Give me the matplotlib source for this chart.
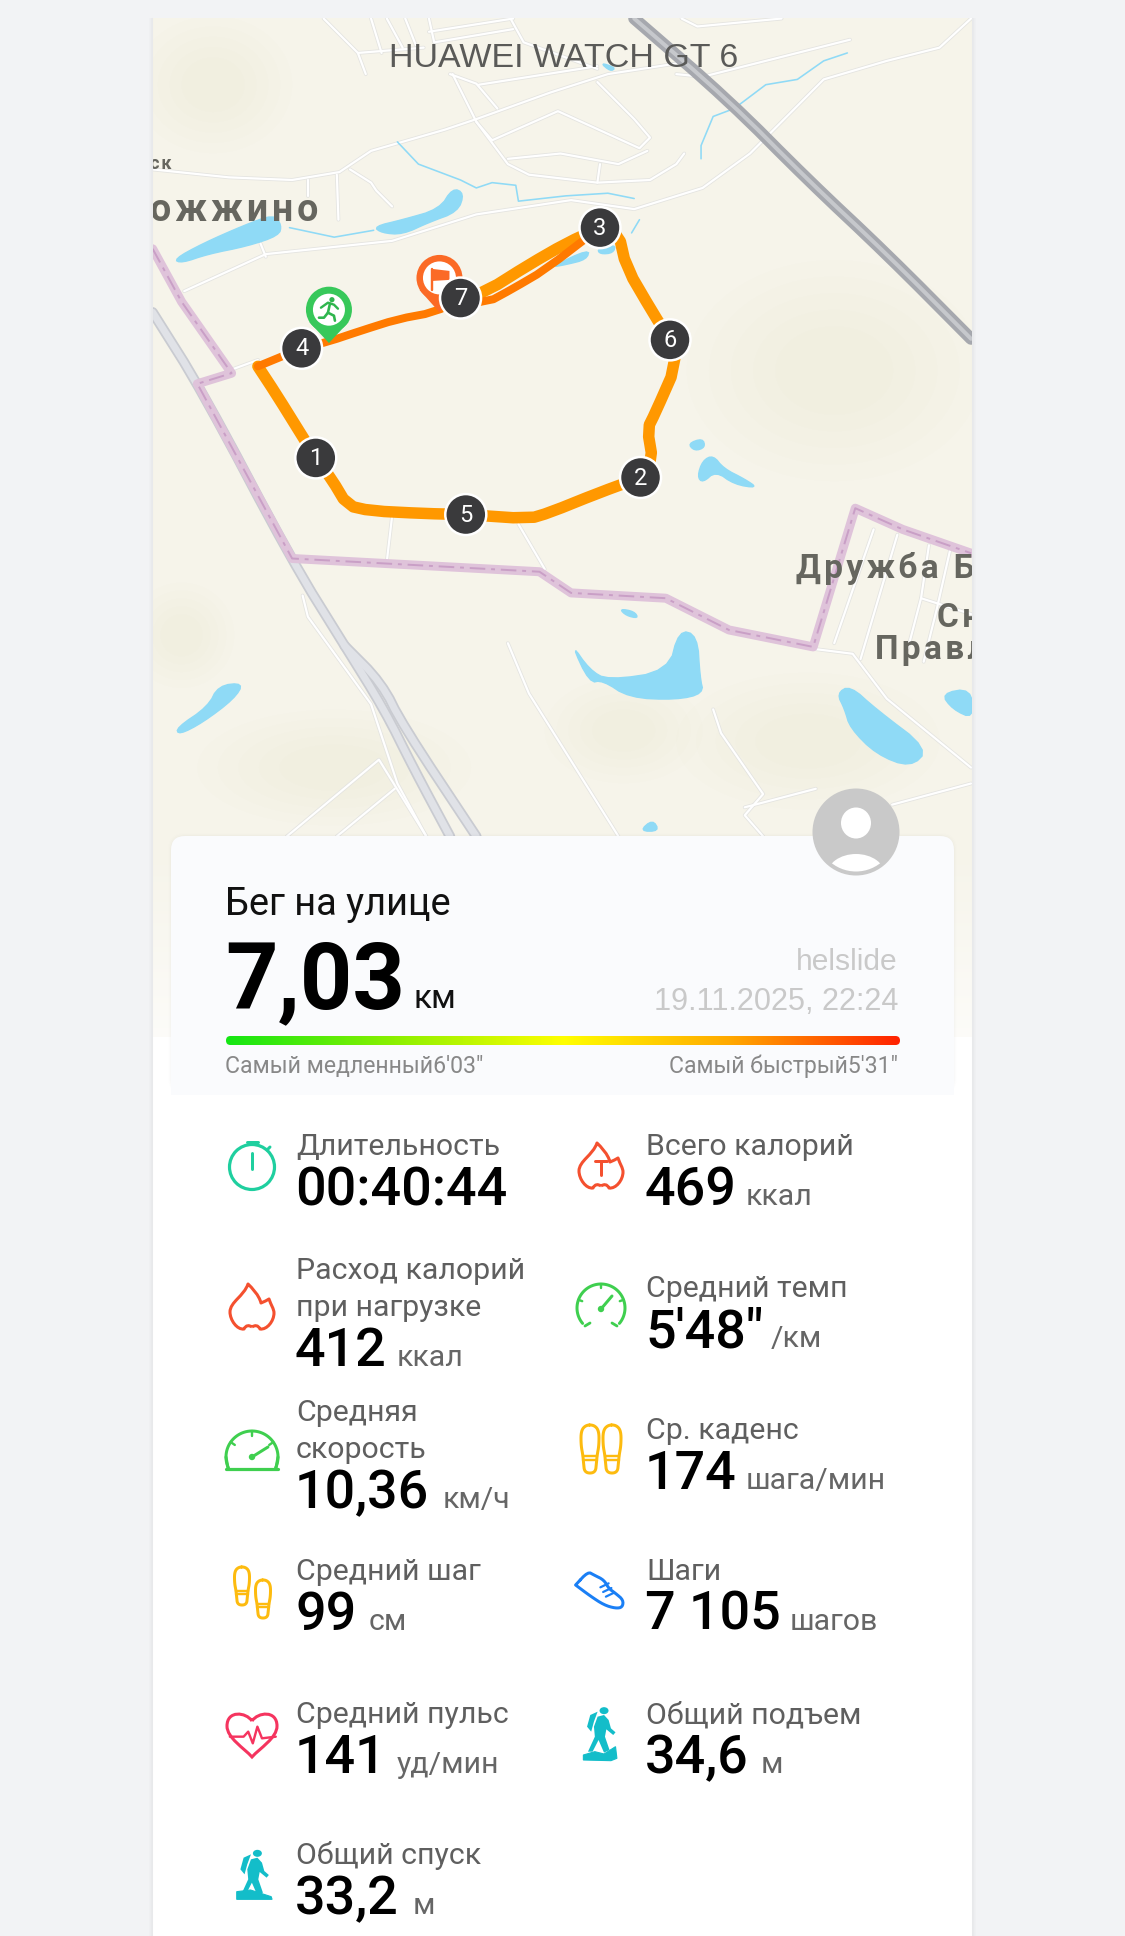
import numpy as np
import matplotlib
matplotlib.use("Agg")
import matplotlib.pyplot as plt
from matplotlib.colors import LinearSegmentedColormap
from matplotlib.patches import Circle, Ellipse, FancyBboxPatch, PathPatch, Polygon, Rectangle
from matplotlib.path import Path

W, H = 1125, 1936

# workout numbers
labels_left = ["Длительность", "Расход калорий\nпри нагрузке", "Средняя\nскорость", "Средний шаг", "Средний пульс", "Общий спуск"]
values_left = ["00:40:44", "412", "10,36", "99", "141", "33,2"]
units_left = ["", "ккал", "км/ч", "см", "уд/мин", "м"]
unit_x_left = [0, 397, 443, 369, 397, 413]
baseline_left = [1205, 1366, 1508, 1630, 1773, 1914]

labels_right = ["Всего калорий", "Средний темп", "Ср. каденс", "Шаги", "Общий подъем"]
values_right = ["469", "5'48\"", "174", "7 105", "34,6"]
units_right = ["ккал", "/км", "шага/мин", "шагов", "м"]
unit_x_right = [746, 771, 746, 790, 761]
baseline_right = [1205, 1347, 1489, 1630, 1773]

# map geometry, read in the coordinates of the map crop
route_light = [(205,692),(240,745),(290,825),(315,865),(345,905),(375,955),(420,965),(520,970),(600,972),
               (720,980),(760,968),(850,932),(932,902),(955,870),(945,810),(960,780),(1000,690),(988,642),
               (955,590),(905,505),(890,440),(855,430),(790,460),(720,500),(640,550),(590,565)]
route_dark = [(855,430),(750,510),(690,545),(640,572),(590,565),(540,590),(470,603),(400,625),(340,645),(288,658),(205,692)]
lap_marks = [(315,865),(932,902),(855,430),(288,658),(600,972),(988,642),(590,563)]

lakes = [
    [(45,490),(100,460),(180,425),(235,405),(250,425),(245,445),(185,465),(110,480),(60,497)],
    [(425,428),(480,415),(550,395),(575,355),(597,365),(585,400),(530,420),(480,443),(440,440)],
    [(855,118),(885,128),(875,135)],
    [(760,505),(835,470),(830,490),(790,500)],
    [(850,470),(885,462),(880,478),(855,480)],
    [(1022,838),(1050,828),(1055,845),(1035,852)],
    [(1040,900),(1050,870),(1070,860),(1090,885),(1130,905),(1155,922),(1110,915),(1075,890),(1050,912)],
    [(892,1150),(920,1155),(928,1168),(905,1163)],
    [(800,1215),(835,1265),(870,1285),(985,1268),(1005,1190),(1040,1200),(1045,1280),(1052,1310),(1000,1322),(910,1318),(860,1285),(835,1290)],
    [(50,1375),(110,1335),(130,1295),(178,1290),(160,1320),(100,1365),(55,1388)],
    [(1305,1310),(1330,1295),(1380,1340),(1480,1415),(1445,1450),(1380,1425),(1330,1375),(1320,1340)],
    [(1503,1310),(1560,1300),(1565,1358),(1525,1340)],
    [(930,1570),(955,1548),(968,1570)],
]
streams = [
    [(470,268),(510,310),(590,340),(620,355),(650,345),(695,350),(700,380),(790,370),(870,365),(920,375)],
    [(1047,300),(1047,275),(1070,220),(1110,205),(1170,160),(1230,150),(1280,115),(1325,100)],
    [(265,430),(350,448),(425,435)],
    [(915,440),(930,415)],
]
roads = [
    [(5,320),(150,335),(270,340),(360,325),(420,285),(560,245),(620,225),(760,175),(870,140),(1000,120)],
    [(575,140),(620,230),(680,310),(720,330),(850,345),(950,340),(1000,310),(1015,290)],
    [(620,230),(650,265),(775,210),(930,280),(950,260),(920,225),(850,155)],
    [(680,300),(780,290),(890,310),(945,285)],
    [(850,345),(855,310)],
    [(570,140),(620,158),(660,205)],
    [(625,160),(850,125)],
    [(380,320),(420,345),(430,360),(460,390)],
    [(355,330),(358,415)],
    [(300,340),(300,370)],
    [(210,460),(220,485)],
    [(65,550),(220,480),(460,455),(620,405),(800,378),(920,395),(1050,355),(1140,290),(1280,150),(1400,115),(1500,90),(1560,35)],
    [(150,700),(205,680)],
    [(330,35),(395,100),(410,140)],
    [(395,100),(520,90)],
    [(420,35),(440,100)],
    [(450,35),(480,90)],
    [(485,35),(505,85)],
    [(530,35),(540,80),(690,55)],
    [(530,60),(690,35)],
    [(685,35),(710,80),(850,130)],
    [(1010,35),(1040,50),(1200,35)],
    [(1000,140),(1050,145),(1330,75)],
    [(460,975),(450,1060)],
    [(700,990),(750,1075),(745,1080)],
    [(680,1215),(720,1310),(890,1580)],
    [(1070,1340),(1085,1385),(1165,1500),(1130,1540),(1165,1580)],
    [(1130,1525),(1265,1490)],
    [(1410,1520),(1560,1480)],
    [(260,1580),(435,1435),(525,1580)],
    [(355,1580),(465,1490)],
    [(290,1125),(300,1165),(420,1330),(470,1480),(525,1580)],
    [(1255,1225),(1335,1235),(1400,1320),(1560,1450)],
    [(1300,1215),(1375,1000)],
    [(1350,1245),(1420,1010)],
    [(1440,1225),(1465,1130),(1480,1030)],
    [(1465,1130),(1560,1160)],
    [(1520,1040),(1495,1150),(1470,1250)],
]
highway_top = [(920,35),(1100,190),(1250,340),(1400,480),(1560,640)]
highway_left = [(5,590),(100,740),(270,1060),(370,1220),(445,1340),(500,1450),(570,1580)]
highway_branch = [(370,1220),(440,1290),(480,1370),(620,1580)]
border = [(5,470),(60,570),(155,705),(90,725),(270,1055),(740,1080),(800,1120),(980,1130),(1100,1190),(1260,1222),(1340,960),(1430,1000),(1560,1045)]
green_patches = [(120,160,300,260),(1300,700,560,420),(350,1450,520,220),(1250,1400,500,260),(900,1380,300,200),(60,1200,200,200)]

ORANGE = "#ff9800"
DARK_ORANGE = "#ff7a00"
WATER = "#8fdaf6"
TEAL = "#13bdc9"
GREEN = "#3fcf4f"
RED = "#f4502f"
YELLOW = "#fdbb0f"
BLUE = "#1a7ff5"


def m(points):
    # map crop -> figure pixels
    return [(150 + x / 1.9, y / 1.889) for x, y in points]


def s(points):
    # lower stats crop -> figure pixels
    return [(200 + x / 2.178, 1530 + y / 3) for x, y in points]


def chaikin(points, rounds=2, closed=False):
    # rounds off corners of a hand read outline
    pts = np.array(points, dtype=float)
    for _ in range(rounds):
        a = pts if closed else pts[:-1]
        b = np.roll(pts, -1, axis=0) if closed else pts[1:]
        q = np.empty((len(a) * 2, 2))
        q[0::2] = 0.75 * a + 0.25 * b
        q[1::2] = 0.25 * a + 0.75 * b
        pts = q if closed else np.vstack([pts[0], q, pts[-1]])
    return [tuple(p) for p in pts]


def line(ax, points, color, width, z=2, **kw):
    xs, ys = zip(*points)
    ax.plot(xs, ys, color=color, lw=width * 0.72, zorder=z, solid_capstyle="round", solid_joinstyle="round", **kw)


def arc(ax, cx, cy, r, a0, a1, color, width, z=6):
    t = np.radians(np.linspace(a0, a1, 60))
    line(ax, list(zip(cx + r * np.cos(t), cy - r * np.sin(t))), color, width, z)


def spaced(text):
    return "\u200a".join(text)


fig = plt.figure(figsize=(W / 100, H / 100), dpi=100, facecolor="#f2f3f5")
ax = fig.add_axes([0, 0, 1, 1])
ax.axis("off")

# ---- map ----
ax.add_patch(Rectangle((153, 18), 819, 1019, fc="#f6f4ea", ec="none", zorder=0))
for cx, cy, w, h in green_patches:
    x, y = m([(cx, cy)])[0]
    for k in range(5):
        ax.add_patch(Ellipse((x, y), w / 1.9 * (1 - k * 0.15), h / 1.9 * (1 - k * 0.15), fc="#e6ecc9", ec="none", alpha=0.05, zorder=0.5))

for r in roads:
    line(ax, m(r), "#e4e4e1", 3.8, 1)
for r in roads:
    line(ax, m(r), "#ffffff", 2.2, 1.1)
for lake in lakes:
    ax.add_patch(Polygon(m(chaikin(lake, closed=True)), closed=True, fc=WATER, ec=WATER, lw=1, zorder=1.5))
for st in streams:
    line(ax, m(st), WATER, 1.6, 1.5)

line(ax, m(chaikin(highway_top)), "#a6a8ae", 12, 1.8)
line(ax, m(chaikin(highway_top)), "#c6c8cc", 4, 1.81)
for hw in (highway_left, highway_branch):
    line(ax, m(chaikin(hw)), "#c9cbd1", 10.5, 1.8)
    line(ax, m(chaikin(hw)), "#e0e2e7", 7, 1.81)

line(ax, m(border), "#dfc3da", 9, 2)
bx, by = zip(*m(border))
ax.plot(bx, by, color="#c99fc6", lw=1.4, ls=(0, (8, 3, 2, 3)), zorder=2.1)

map_font = {"family": ["Roboto", "DejaVu Sans"], "color": "#66665f", "zorder": 3, "weight": "bold"}
ax.text(389, 67, "HUAWEI WATCH GT 6", fontsize=24.5, family="Liberation Sans", color="#5a5a58", zorder=3)
ax.text(150, 169, spaced("ск"), fontsize=13, **map_font)
ax.text(150, 221, spaced("ожжино"), fontsize=27, **map_font)
ax.text(796, 578, spaced("Дружба Би"), fontsize=24, **map_font)
ax.text(937, 627, spaced("Сн"), fontsize=24, **map_font)
ax.text(875, 659, spaced("Правл"), fontsize=24, **map_font)

# fade of the map toward the bottom
fade = np.linspace(0, 0.7, 64).reshape(-1, 1)
fade_img = np.dstack([np.ones_like(fade)] * 3 + [fade])
ax.imshow(fade_img, extent=(153, 972, 1037, 850), aspect="auto", zorder=3.5)

# route
line(ax, m(chaikin(route_light, 1)), ORANGE, 11.5, 4)
line(ax, m(chaikin(route_dark, 1)), DARK_ORANGE, 8, 4.1)

# start pin
px, py = m([(340, 585)])[0]
tip = m([(340, 648)])[0]
ax.add_patch(Polygon([(px - 20, py + 12), tip, (px + 20, py + 12)], fc="#37c85a", ec="none", zorder=4.3))
ax.add_patch(Circle((px, py), 23, fc="#37c85a", ec="none", zorder=4.3))
ax.add_patch(Circle((px, py), 16, fc="white", ec="none", zorder=4.4))
ax.add_patch(Circle((px + 3, py - 10), 2.6, fc="#2fb54e", ec="none", zorder=4.5))
line(ax, [(px - 8, py - 2), (px - 1, py - 7), (px + 5, py - 5), (px + 9, py - 1)], "#2fb54e", 2.4, 4.5)
line(ax, [(px + 1, py - 6), (px - 1, py + 3), (px + 5, py + 6), (px + 6, py + 11)], "#2fb54e", 2.6, 4.5)
line(ax, [(px - 1, py + 3), (px - 5, py + 8), (px - 10, py + 8)], "#2fb54e", 2.6, 4.5)

# finish pin
fx, fy = m([(550, 525)])[0]
tip = m([(550, 590)])[0]
ax.add_patch(Polygon([(fx - 20, fy + 12), tip, (fx + 20, fy + 12)], fc="#fb6a26", ec="none", zorder=4.3))
ax.add_patch(Circle((fx, fy), 23, fc="#fb6a26", ec="none", zorder=4.3))
ax.add_patch(Circle((fx, fy), 16.5, fc="white", ec="none", zorder=4.4))
ax.add_patch(Polygon([(fx - 7, fy - 9), (fx + 10, fy - 7), (fx + 10, fy + 2), (fx - 7, fy + 3)], fc="#fb6a26", ec="none", zorder=4.5))
line(ax, [(fx - 7, fy - 9), (fx - 7, fy + 12)], "#fb6a26", 2.4, 4.5)

for i, (x, y) in enumerate(m(lap_marks)):
    ax.add_patch(Circle((x, y), 20.5, fc="#3a3a3c", ec="white", lw=1.8, zorder=5))
    ax.text(x, y + 0.5, str(i + 1), color="white", fontsize=17, ha="center", va="center", family="Roboto", zorder=5.1)

# covers round the panel
ax.add_patch(Rectangle((0, 0), 153, H, fc="#f2f3f5", ec="none", zorder=5.5))
ax.add_patch(Rectangle((972, 0), 153, H, fc="#f2f3f5", ec="none", zorder=5.5))
ax.add_patch(Rectangle((0, 0), W, 18, fc="#f2f3f5", ec="none", zorder=5.5))
ax.add_patch(Rectangle((153, 1037), 819, H - 1037, fc="white", ec="none", zorder=5.5))
for k, a in enumerate([0.04, 0.03, 0.02, 0.01]):
    for x0 in (152 - k, 972 + k):
        ax.plot([x0, x0], [18, H], color="black", alpha=a, lw=0.8, zorder=5.6)

# ---- card ----
for k, a in enumerate([0.012, 0.008, 0.005]):
    ax.add_patch(FancyBboxPatch((171 - k - 1, 836 - k - 1), 783 + 2 * k + 2, 259 + k, boxstyle="round,pad=0,rounding_size=16",
                                fc="black", ec="none", alpha=a, zorder=5.7))
ax.add_patch(FancyBboxPatch((171, 836), 783, 300, boxstyle="round,pad=0,rounding_size=14", fc="#fafbfd", ec="none", zorder=6))
ax.add_patch(Rectangle((165, 1095), 795, H - 1095, fc="white", ec="none", zorder=6))

# avatar
ax.add_patch(Circle((856, 832), 43.5, fc="#c9c9c9", ec="none", zorder=6.5))
ax.add_patch(Ellipse((856, 823), 30, 31, fc="white", ec="none", zorder=6.6))
avatar_clip = Circle((856, 832), 39.5, transform=ax.transData)
body = Ellipse((856, 875), 58, 42, fc="white", ec="none", zorder=6.6)
ax.add_patch(body)
body.set_clip_path(avatar_clip)

ui = "Roboto"
ax.text(225, 915, "Бег на улице", fontsize=27.4, color="#111111", family=ui, zorder=7)
ax.text(225, 1008, "7,03", fontsize=66, weight="bold", color="#000000", family=ui, zorder=7)
ax.text(413, 1008, "км", fontsize=24, color="#111111", family=ui, zorder=7)
ax.text(898, 970, "helslide", fontsize=21.6, color="#c9c9c9", family="Liberation Sans", ha="right", zorder=7)
ax.text(898, 1010, "19.11.2025, 22:24", fontsize=22.1, color="#c9c9c9", family="Liberation Sans", ha="right", zorder=7)

# pace bar
pace = LinearSegmentedColormap.from_list("pace", ["#14e614", "#8cf000", "#ffff00", "#ffa800", "#ff2200"])
grad = np.linspace(0, 1, 256).reshape(1, -1)
bar = ax.imshow(grad, extent=(226, 900, 1045, 1036), cmap=pace, aspect="auto", zorder=7)
bar.set_clip_path(FancyBboxPatch((226, 1036), 674, 9, boxstyle="round,pad=0,rounding_size=4.5", transform=ax.transData))
ax.text(225, 1073, "Самый медленный6'03\"", fontsize=16.7, color="#888888", family=ui, zorder=7)
ax.text(898, 1073, "Самый быстрый5'31\"", fontsize=16.6, color="#888888", family=ui, ha="right", zorder=7)


def stat(x, base, label, value, unit, unit_x):
    rows = label.split("\n")
    first = base - 50 - 37 * (len(rows) - 1)
    for i, row in enumerate(rows):
        ax.text(x, first + i * 37, row, fontsize=21.8, color="#5f5f5f", family=ui, zorder=7)
    ax.text(x - 1, base, value, fontsize=38.8, weight="medium", color="#000000", family=ui, zorder=7)
    if unit:
        ax.text(unit_x, base, unit, fontsize=21.8, color="#666666", family=ui, zorder=7)


for row in zip(labels_left, values_left, units_left, unit_x_left, baseline_left):
    stat(296, row[4], row[0], row[1], row[2], row[3])
for row in zip(labels_right, values_right, units_right, unit_x_right, baseline_right):
    stat(646, row[4], row[0], row[1], row[2], row[3])


# ---- icons ----
def flame(cx, cy, letter=False):
    verts = [(0,19),(-3,17),(-6,17),(-8,21),(-15,22),(-22,12),(-22,4),(-22,-6),(-8,-12),(-4,-24),
             (0,-20),(7,-13),(9,-5),(12,-6),(15,-8),(17,-9),(19,-3),(22,1),(22,5),(22,13),(15,22),(8,21),(6,17),(3,17),(0,19)]
    codes = [Path.MOVETO] + [Path.CURVE4] * 24
    pts = [(cx + x, cy + y) for x, y in verts]
    ax.add_patch(PathPatch(Path(pts, codes), fc="none", ec=RED, lw=2.2, joinstyle="round", zorder=7))
    if letter:
        line(ax, [(cx - 6, cy - 6), (cx + 6, cy - 6)], RED, 3, 7)
        line(ax, [(cx, cy - 6), (cx, cy + 8)], RED, 3, 7)


def sole(cx, top, bottom, w, width=3):
    h = bottom - top
    half = w / 2
    outline = [(-half * 0.45, 0), (half * 0.45, 0), (half, 0.12 * h), (half, 0.42 * h), (half * 0.8, 0.62 * h),
               (half * 0.72, 0.78 * h), (half * 0.6, h), (-half * 0.6, h), (-half * 0.72, 0.78 * h),
               (-half * 0.8, 0.62 * h), (-half, 0.42 * h), (-half, 0.12 * h)]
    pts = chaikin([(cx + a, top + b) for a, b in outline], 3, closed=True)
    line(ax, pts + pts[:1], YELLOW, width, 7)
    line(ax, [(cx - half * 0.78, top + 0.64 * h), (cx + half * 0.78, top + 0.64 * h)], YELLOW, width * 0.8, 7)
    line(ax, [(cx - half * 0.75, top + 0.72 * h), (cx + half * 0.75, top + 0.72 * h)], YELLOW, width * 0.8, 7)


def hiker(dx, dy, base):
    hx, hy = 880 + dx, 542 + dy
    x, y = s([(hx, hy)])[0]
    ax.add_patch(Ellipse((x, y), 9, 7, fc=TEAL, ec="none", zorder=7))
    pack = [(843,590),(850,555),(866,545),(858,575),(852,605)]
    torso = [(866,560),(880,555),(890,570),(895,595),(905,607),(900,615),(885,598),(882,620),(892,660),(880,668),
             (868,630),(855,665),(845,665),(860,620),(858,590)]
    for shape in (pack, torso):
        ax.add_patch(Polygon(s([(a + dx, b + dy) for a, b in shape]), fc=TEAL, ec="none", zorder=7))
    ax.add_patch(Polygon(s(base), fc=TEAL, ec=TEAL, lw=0.8, zorder=7))


# stopwatch
ax.add_patch(Circle((252, 1167), 22.5, fc="none", ec="#1fcf9f", lw=2.3, zorder=7))
line(ax, [(247, 1142), (258, 1142)], "#1fcf9f", 3, 7)
line(ax, [(252, 1153), (252, 1169)], "#1fcf9f", 3, 7)
line(ax, [(267, 1150), (270, 1147)], "#1fcf9f", 3, 7)

flame(601, 1167, letter=True)
flame(252, 1308)

# pace gauge
arc(ax, 601, 1308, 24, -40, 220, GREEN, 3)
for ang in (90, 20, 160):
    t = np.radians(ang)
    line(ax, [(601 + 24 * np.cos(t), 1308 - 24 * np.sin(t)), (601 + 20 * np.cos(t), 1308 - 20 * np.sin(t))], GREEN, 2.4, 7)
line(ax, [(601, 1309), (612, 1296)], GREEN, 3, 7)
ax.add_patch(Circle((601, 1309), 3.2, fc=GREEN, ec="none", zorder=7))
line(ax, [(585, 1326), (590, 1323)], GREEN, 2.8, 7)
line(ax, [(617, 1326), (612, 1323)], GREEN, 2.8, 7)

# speed gauge
arc(ax, 252, 1457, 26, -25, 205, GREEN, 3)
line(ax, [(226, 1469), (278, 1469)], GREEN, 3.2, 7)
line(ax, [(228, 1468), (226, 1457)], GREEN, 3, 7)
line(ax, [(276, 1468), (278, 1457)], GREEN, 3, 7)
for ang in (90, 35, 145):
    t = np.radians(ang)
    line(ax, [(252 + 26 * np.cos(t), 1457 - 26 * np.sin(t)), (252 + 21 * np.cos(t), 1457 - 21 * np.sin(t))], GREEN, 2.4, 7)
line(ax, [(252, 1457), (268, 1447)], GREEN, 3, 7)
ax.add_patch(Circle((252, 1457), 3.2, fc=GREEN, ec="none", zorder=7))

# shoe soles
sole(590, 1425, 1473, 18)
sole(612, 1425, 1473, 18)
sole(242, 1567, 1605, 15)
sole(263, 1580, 1618, 15)

# sneaker
shoe = [(818,165),(845,125),(858,135),(880,150),(890,175),(905,190),(922,210),(920,232),(905,235),(880,225),(850,198),(818,165)]
line(ax, chaikin(s(shoe), 2, closed=True) + chaikin(s(shoe), 2, closed=True)[:1], BLUE, 3, 7)
for a, b in ((872,172), (878,186), (884,200)):
    line(ax, s([(a, b), (a + 18, b - 12)]), BLUE, 2.2, 7)

# heart
hx, hy = 252, 1734
hv = [(0,-13),(-6,-22),(-25,-24),(-25,-8),(-25,4),(-8,14),(0,23),(8,14),(25,4),(25,-8),(25,-24),(6,-22),(0,-13)]
ax.add_patch(PathPatch(Path([(hx + a, hy + b) for a, b in hv], [Path.MOVETO] + [Path.CURVE4] * 12),
                       fc="none", ec="#f5345f", lw=2.2, zorder=7))
line(ax, s([(65,620),(95,620),(105,605),(115,640),(125,590),(135,625),(165,620)]), "#f5345f", 2.4, 7)

# hikers
hiker(0, 0, [(835,690),(835,675),(860,665),(880,672),(905,650),(908,685),(895,692)])
hiker(-755, 428, [(80,1108),(80,1085),(110,1080),(155,1100),(157,1108)])

ax.set_xlim(0, W)
ax.set_ylim(H, 0)
fig.savefig("out.png", dpi=100, facecolor=fig.get_facecolor())
